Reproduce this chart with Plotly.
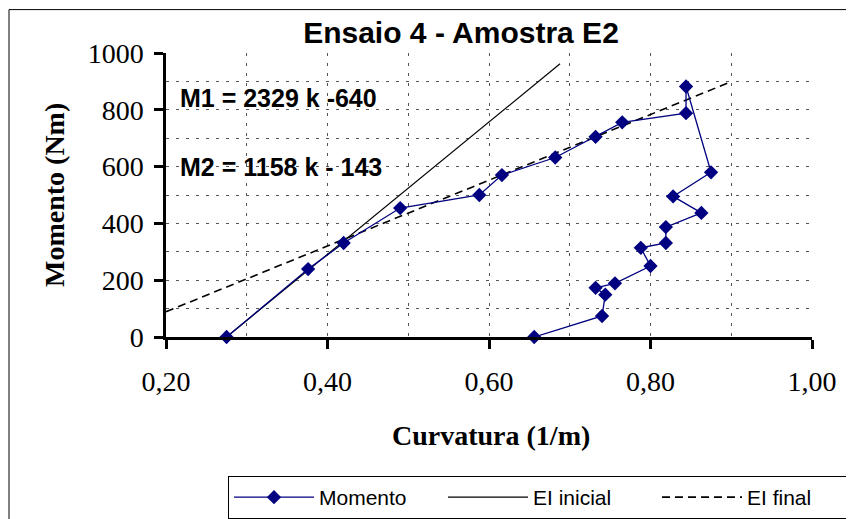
import plotly.graph_objects as go

# Momento data (curvature 1/m, moment Nm)
curv = [0.275, 0.376, 0.420, 0.490, 0.588, 0.616, 0.682, 0.732, 0.765, 0.844, 0.844,
        0.875, 0.828, 0.863, 0.819, 0.819, 0.788, 0.800, 0.756, 0.732, 0.744, 0.740, 0.656]
momento = [0, 239, 331, 454, 500, 570, 632, 705, 756, 788, 882,
           580, 495, 437, 387, 331, 314, 250, 189, 173, 149, 74, 0]

# EI lines (end points)
ei_inicial_k = [0.275, 0.688]
ei_inicial_m = [0, 962]
ei_final_k = [0.20, 0.898]
ei_final_m = [89, 897]

title = "Ensaio 4 - Amostra E2"
eq1 = "M1 = 2329 k -640"
eq2 = "M2 = 1158 k - 143"
x_title = "Curvatura (1/m)"
y_title = "Momento (Nm)"

# the page body adds an 8px offset; work in reference-screen pixels
OFF = 8
W, H = 854, 519
L, R, T, B = 166 - OFF, 812 - OFF, 53.3 - OFF, 336.7 - OFF
PW, PH = R - L, B - T

def px(x):
    return (x - OFF - L) / PW

def py(y):
    return (B - (y - OFF)) / PH

fig = go.Figure()
fig.add_trace(go.Scatter(x=ei_inicial_k, y=ei_inicial_m, mode="lines", name="EI inicial",
                         line=dict(color="black", width=1.2), legendrank=2))
fig.add_trace(go.Scatter(x=ei_final_k, y=ei_final_m, mode="lines", name="EI final",
                         line=dict(color="black", width=1.6, dash="8px,5px"), legendrank=3))
fig.add_trace(go.Scatter(x=curv, y=momento, mode="lines+markers", name="Momento",
                         line=dict(color="#000080", width=1.3),
                         marker=dict(symbol="diamond", size=11, color="#000080"),
                         cliponaxis=False, legendrank=1))

serif = "Liberation Serif, Times New Roman, serif"
sans = "Liberation Sans, Arial, sans-serif"
grid = dict(showgrid=True, gridcolor="#555", gridwidth=1, griddash="3px,7px")

fig.update_layout(
    width=W, height=H,
    margin=dict(l=L, r=W - R, t=T, b=H - B, autoexpand=False),
    paper_bgcolor="white", plot_bgcolor="white",
    separators=",.",
    showlegend=True,
    title=dict(text="<b>" + title + "</b>", x=(461 - OFF) / W, xanchor="center",
               y=1 - (32 - OFF) / H, yanchor="middle",
               font=dict(family=sans, size=30, color="black")),
    legend=dict(orientation="h", xref="container", yref="container",
                x=(228 - OFF) / W, xanchor="left",
                y=1 - (476 - OFF) / H, yanchor="top",
                bordercolor="black", borderwidth=1, bgcolor="white",
                font=dict(family=sans, size=21, color="black"),
                itemwidth=80, entrywidth=119, entrywidthmode="pixels",
                tracegroupgap=0, traceorder="normal"),
    xaxis=dict(range=[0.2, 1.0], dtick=0.2, tick0=0.2, tickformat=".2f",
               showline=True, linecolor="black", linewidth=2.5,
               ticks="outside", ticklen=9, tickwidth=2.5, tickcolor="black",
               minor=dict(dtick=0.1, **grid), **grid,
               zeroline=False, automargin=False, ticklabelstandoff=9,
               tickfont=dict(family=serif, size=28, color="black")),
    yaxis=dict(range=[0, 1000], dtick=200,
               showline=True, linecolor="black", linewidth=2.5,
               ticks="outside", ticklen=9, tickwidth=2.5, tickcolor="black",
               minor=dict(dtick=100, **grid), **grid,
               zeroline=False, automargin=False, ticklabelstandoff=5,
               tickfont=dict(family=serif, size=28, color="black")),
    annotations=[
        dict(text="<b>" + eq1 + "</b>", xref="paper", yref="y", x=px(178), y=840,
             xanchor="left", yanchor="middle", showarrow=False,
             font=dict(family=sans, size=25, color="black")),
        dict(text="<b>" + eq2 + "</b>", xref="paper", yref="y", x=px(178), y=600,
             xanchor="left", yanchor="middle", showarrow=False,
             font=dict(family=sans, size=25, color="black")),
        dict(text="<b>" + x_title + "</b>", xref="paper", yref="paper", x=px(491), y=py(435),
             xanchor="center", yanchor="middle", showarrow=False,
             font=dict(family=serif, size=28, color="black")),
        dict(text="<b>" + y_title + "</b>", xref="paper", yref="paper", x=px(54), y=py(195),
             xanchor="center", yanchor="middle", showarrow=False, textangle=-90,
             font=dict(family=serif, size=28, color="black")),
    ],
    shapes=[dict(type="rect", xref="paper", yref="paper",
                 x0=px(9), x1=px(870), y0=py(530), y1=py(10),
                 line=dict(color="black", width=1), fillcolor="rgba(0,0,0,0)",
                 layer="below")],
)

fig.write_html("out.html")
